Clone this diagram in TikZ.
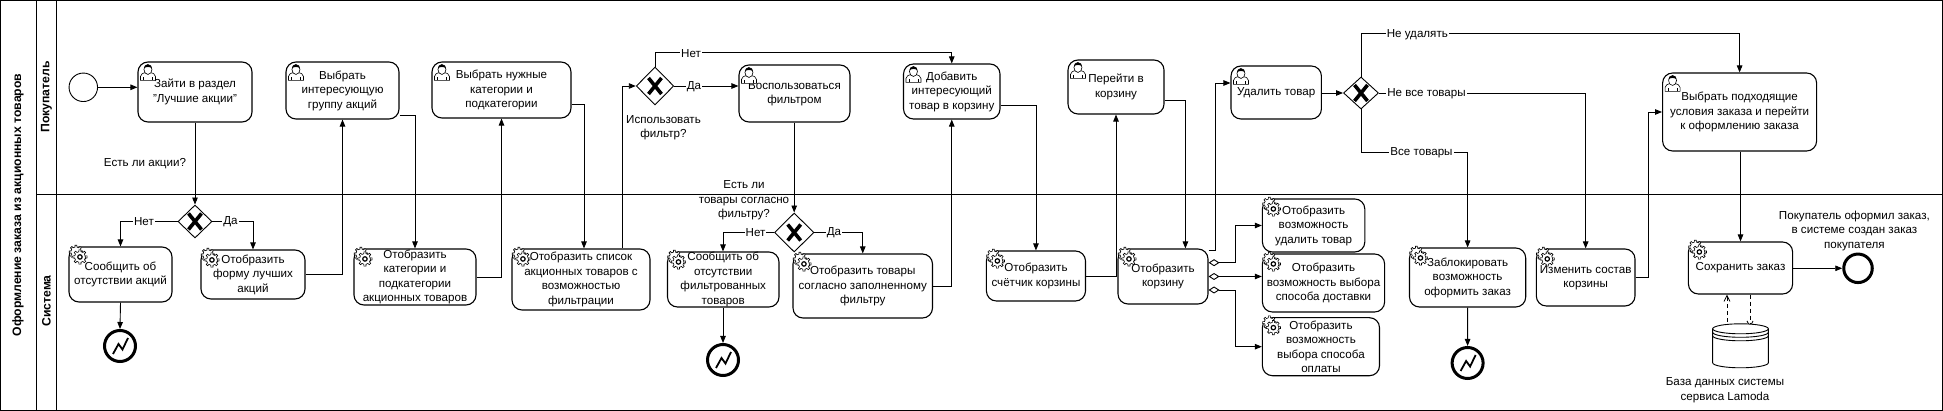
\documentclass[tikz,border=0pt]{standalone}
\usepackage{fontspec}
\setmainfont{Liberation Sans}
\usetikzlibrary{arrows.meta,shapes.geometric,backgrounds,calc}
\newcommand{\gearshape}[3]{% cx cy r
  \draw[fill=white,line width=.6pt] (#1+#3,#2)
    \foreach \a in {0,45,...,315}{
      -- ($(#1,#2)+(\a-11:#3)$) -- ($(#1,#2)+(\a-8:#3+1.8)$) -- ($(#1,#2)+(\a+8:#3+1.8)$) -- ($(#1,#2)+(\a+11:#3)$)
    } -- cycle;
}
\tikzset{
  x=1pt,y=-1pt,
  task/.style={draw,fill=white,rounded corners=10pt,line width=1.1pt,inner sep=0pt,align=center,
    font=\fontsize{11.6}{14.5}\selectfont},
  gate/.style={draw,fill=white,diamond,inner sep=0pt,line width=.9pt},
  flow/.style={line width=.9pt,-{Triangle[length=7pt,width=5.5pt]}},
  aggflow/.style={line width=.9pt,{Diamond[open,fill=white,length=11pt,width=7pt]}-{Triangle[length=7pt,width=5.5pt]}},
  dataflow/.style={line width=.8pt,dashed,dash pattern=on 4pt off 3pt,-{Straight Barb[length=6pt,width=6pt]}},
  lab/.style={font=\fontsize{11.6}{14.5}\selectfont,align=center,inner sep=0pt},
  elab/.style={lab,fill=white,inner xsep=1pt,inner ysep=0pt},
  endev/.style={circle,draw,fill=white,line width=3pt,inner sep=0pt},
  startev/.style={circle,draw,fill=white,line width=.9pt,inner sep=0pt},
  lane/.style={draw=none,rotate=90,font=\fontsize{12.2}{14}\selectfont\bfseries,inner sep=0pt},
  usericon/.pic={
    \draw[fill=white,line width=.6pt] (2,18) -- (2,14) .. controls (2,11) and (5,11) .. (7,10) -- (12,10) .. controls (14,11) and (17,11) .. (17,14) -- (17,18) -- cycle;
    \draw[fill=white,line width=.6pt] (9.5,7) ellipse (4 and 5);
    \fill[black] (5.5,6) .. controls (5,1) and (14,1) .. (13.5,6) .. controls (12,4) and (7,4) .. (5.5,6) -- cycle;
    \draw[line width=.5pt] (5,18) -- (5,15) (14,18) -- (14,15);
  },
  gearicon/.pic={
    \gearshape{6.5}{6.5}{5}
    \gearshape{10.5}{11.5}{5.4}
    \draw[fill=white,line width=1.2pt] (10.5,11.5) circle (2.2);
  },
}
\newcommand{\gw}[5]{%
  \node[gate,minimum width=#4pt,minimum height=#5pt] (#1) at (#2,#3) {};
  \draw[line width=3.6pt] ($(#1.center)+(-6.5,-8)$) -- ($(#1.center)+(6.5,8)$)
    ($(#1.center)+(6.5,-8)$) -- ($(#1.center)+(-6.5,8)$);
}
\newcommand{\tk}[6]{% name x1 y1 x2 y2 text
  \node[task,minimum width=#4pt-#2pt,minimum height=#5pt-#3pt] (#1) at ({(#2+#4)/2},{(#3+#5)/2}) {#6};
}
\newcommand{\ub}[1]{\pic at ([shift={(1,1)}]#1.north west) {usericon};}
\newcommand{\gb}[1]{\pic at ([shift={(1,-1)}]#1.north west) {gearicon};}
\newcommand{\boltev}[3]{%
  \node[endev,minimum size=31pt] (#1) at (#2,#3) {};
  \draw[line width=1.8pt,line join=miter] ($(#1.center)+(-7,8)$) -- ($(#1.center)+(-1.5,-2)$) -- ($(#1.center)+(2.5,3.5)$) -- ($(#1.center)+(8,-8)$);
}
\begin{document}
\begin{tikzpicture}
\useasboundingbox (0,0) rectangle (1943,411);
% tasks: buyer
\node[startev,minimum size=28.5pt] (st) at (83.3,87.3) {};
\tk{t1}{138}{62}{252}{122}{Зайти в раздел\\"Лучшие акции"}
\tk{t2}{286}{62}{399}{119}{Выбрать\\интересующую\\группу акций}
\tk{t3}{432}{62}{571}{118}{Выбрать нужные\\категории и\\подкатегории}
\tk{t4}{739}{65}{850}{122}{Воспользоваться\\фильтром}
\tk{t5}{903.5}{64}{1000}{119}{Добавить\\интересующий\\товар в корзину}
\tk{t6}{1068}{60}{1164}{114}{Перейти в\\корзину}
\tk{t7}{1231}{66}{1321.4}{119}{Удалить товар}
\tk{t8}{1662.6}{73}{1816.6}{151}{Выбрать подходящие\\условия заказа и перейти\\к оформлению заказа}
\foreach \n in {t1,t2,t3,t4,t5,t6,t7,t8}{\ub{\n}}
% tasks: system
\tk{s1}{69}{247}{172}{302}{Сообщить об\\отсутствии акций}
\tk{s2}{201}{250}{305}{299}{Отобразить\\форму лучших\\акций}
\tk{s3}{354}{249}{476}{305}{Отобразить\\категории и\\подкатегории\\акционных товаров}
\tk{s4}{512}{249}{650}{310}{Отобразить список\\акционных товаров с\\возможностью\\фильтрации}
\tk{s5}{667.5}{252}{779}{307}{Сообщить об\\отсутствии\\фильтрованных\\товаров}
\tk{s6}{793}{254}{932.5}{318}{Отобразить товары\\согласно заполненному\\фильтру}
\tk{s7}{986.4}{251}{1085.5}{301}{Отобразить\\счётчик корзины}
\tk{s8}{1118}{249}{1208}{304}{Отобразить\\корзину}
\tk{s9}{1262.4}{199}{1364.8}{252}{Отобразить\\возможность\\удалить товар}
\tk{s10}{1262.4}{254}{1384.6}{312}{Отобразить\\возможность выбора\\способа доставки}
\tk{s11}{1262.4}{317.7}{1379.5}{375.7}{Отобразить\\возможность\\выбора способа\\оплаты}
\tk{s12}{1409.5}{248}{1525.7}{307}{Заблокировать\\возможность\\оформить заказ}
\tk{s13}{1536.3}{249}{1635}{306}{Изменить состав\\корзины}
\tk{s14}{1688.4}{242}{1792.6}{294}{Сохранить заказ}
\foreach \n in {s1,s2,s3,s4,s5,s6,s7,s8,s9,s10,s11,s12,s13,s14}{\gb{\n}}
% gateways
\gw{g1}{195}{221.5}{34}{33}
\gw{g2}{655}{86}{37.5}{38}
\gw{g3}{1361}{93}{35}{32}
\gw{g4}{794.2}{232.5}{39.5}{39}
% events
\boltev{e1}{120}{346}
\boltev{e2}{723}{360}
\boltev{e3}{1467.6}{363}
\node[endev,minimum size=28.5pt] (e4) at (1858,268.3) {};
% database
\node[minimum width=55.7pt,minimum height=44pt,inner sep=0pt] (db) at (1740.7,346) {};
\draw[fill=white,line width=.9pt] (db.north west) ++(0,5) -- ++(0,34) arc[start angle=180,end angle=360,x radius=27.85,y radius=-5] -- ++(0,-34)
  arc[start angle=0,end angle=180,x radius=27.85,y radius=-5] -- cycle;
\draw[line width=.9pt] (db.north west) ++(0,5) arc[start angle=180,end angle=360,x radius=27.85,y radius=-5]
  (db.north west) ++(0,8.5) arc[start angle=180,end angle=360,x radius=27.85,y radius=-5]
  (db.north west) ++(0,12) arc[start angle=180,end angle=360,x radius=27.85,y radius=-5];
% lanes and connectors
\begin{scope}[on background layer]
\draw[line width=1.2pt] (0.6,0.6) rectangle (1942.4,410.4);
\draw[line width=1.1pt] (36.5,0.6) -- (36.5,410.4) (56.5,0.6) -- (56.5,410.4) (36.5,194.3) -- (1942.4,194.3);
\coordinate (c13) at (1648.3,112);
\coordinate (c3) at (1215.7,83);
\coordinate (bus) at (1235.7,276.5);
\draw[flow] (st) -- (t1.west |- st);
\draw[flow] (t1.south) -- (g1.north);
\draw[flow] (g1.west) -| (s1.north);
\draw[flow] (g1.east) -| (s2.north);
\draw[flow] (s1.south) -- (e1.north);
\draw[flow] (s2.east) -| (t2.south);
\draw[flow] (t2.east |- 0,115) -| (s3.north);
\draw[flow] (s3.east) -| (t3.south);
\draw[flow] (t3.east |- 0,104) -| (s4.north -| 584,0);
\draw[flow] (s4.north -| 622.5,0) |- (g2.west);
\draw[flow] (g2.north) |- (t5.north |- 0,52) -- (t5.north);
\draw[flow] (g2.east) -- (t4.west |- g2.east);
\draw[flow] (t4.south -| g4.north) -- (g4.north);
\draw[flow] (g4.west) -| (s5.north -| e2.north);
\draw[flow] (g4.east) -| (s6.north);
\draw[flow] (s5.south -| e2.north) -- (e2.north);
\draw[flow] (s6.east) -| (t5.south);
\draw[flow] (t5.east |- 0,105) -| (s7.north);
\draw[flow] (s7.east) -| (t6.south);
\draw[flow] (t6.east |- 0,100) -| (s8.north -| 1185.4,0);
\draw[flow] (s8.east |- 0,250.3) -- (c3 |- 0,250.3) -- (c3) -- (t7.west |- c3);
\draw[aggflow] (s8.east |- 0,262.7) -- (bus |- 0,262.7) |- (s9.west);
\draw[aggflow] (s8.east |- bus) -- (s10.west |- bus);
\draw[aggflow] (s8.east |- 0,290) -- (bus |- 0,290) |- (s11.west);
\draw[flow] (t7.east |- g3.west) -- (g3.west);
\draw[flow] (g3.north) |- (t8.north |- 0,33) -- (t8.north);
\draw[flow] (g3.east) -| (s13.north);
\draw[flow] (g3.south) |- (s12.north |- 0,152) -- (s12.north);
\draw[flow] (s12.south) -- (e3.north);
\draw[flow] (s13.east) -| (c13) -- (t8.west |- c13);
\draw[flow] (t8.south -| s14.north) -- (s14.north);
\draw[flow] (s14.east |- e4) -- (e4.west);
\draw[dataflow] ($(db.north -| 1727,0)+(0,5)$) -- (s14.south -| 1727,0);
\draw[dataflow] (s14.south -| 1750,0) -- ($(db.north -| 1750,0)+(0,4)$);
\end{scope}
% labels
\node[lane] (ln0) at (18,205) {Оформление заказа из акционных товаров};
\node[lane] (ln1) at (46.5,97) {Покупатель};
\node[lane] (ln2) at (46.5,301) {Система};
\node[lab] (q1) at (145,164) {Есть ли акции?};
\node[lab] (q2) at (663.5,127.5) {Использовать\\фильтр?};
\node[lab] (q3) at (744,200.5) {Есть ли\\товары согласно\\фильтру?};
\node[lab] (q4) at (1854.4,231) {Покупатель оформил заказ,\\в системе создан заказ\\покупателя};
\node[lab] (q5) at (1725,390) {База данных системы\\сервиса Lamoda};
\node[elab] (n1) at (144,222) {Нет};
\node[elab] (d1) at (230.5,222) {Да};
\node[elab] (n2) at (691,54) {Нет};
\node[elab] (d2) at (694,86.5) {Да};
\node[elab] (n3) at (755.5,233) {Нет};
\node[elab] (d3) at (834,233) {Да};
\node[elab] (n4) at (1417.3,35) {Не удалять};
\node[elab] (n5) at (1426.5,93.5) {Не все товары};
\node[elab] (n6) at (1421.5,152.5) {Все товары};
\end{tikzpicture}
\end{document}
